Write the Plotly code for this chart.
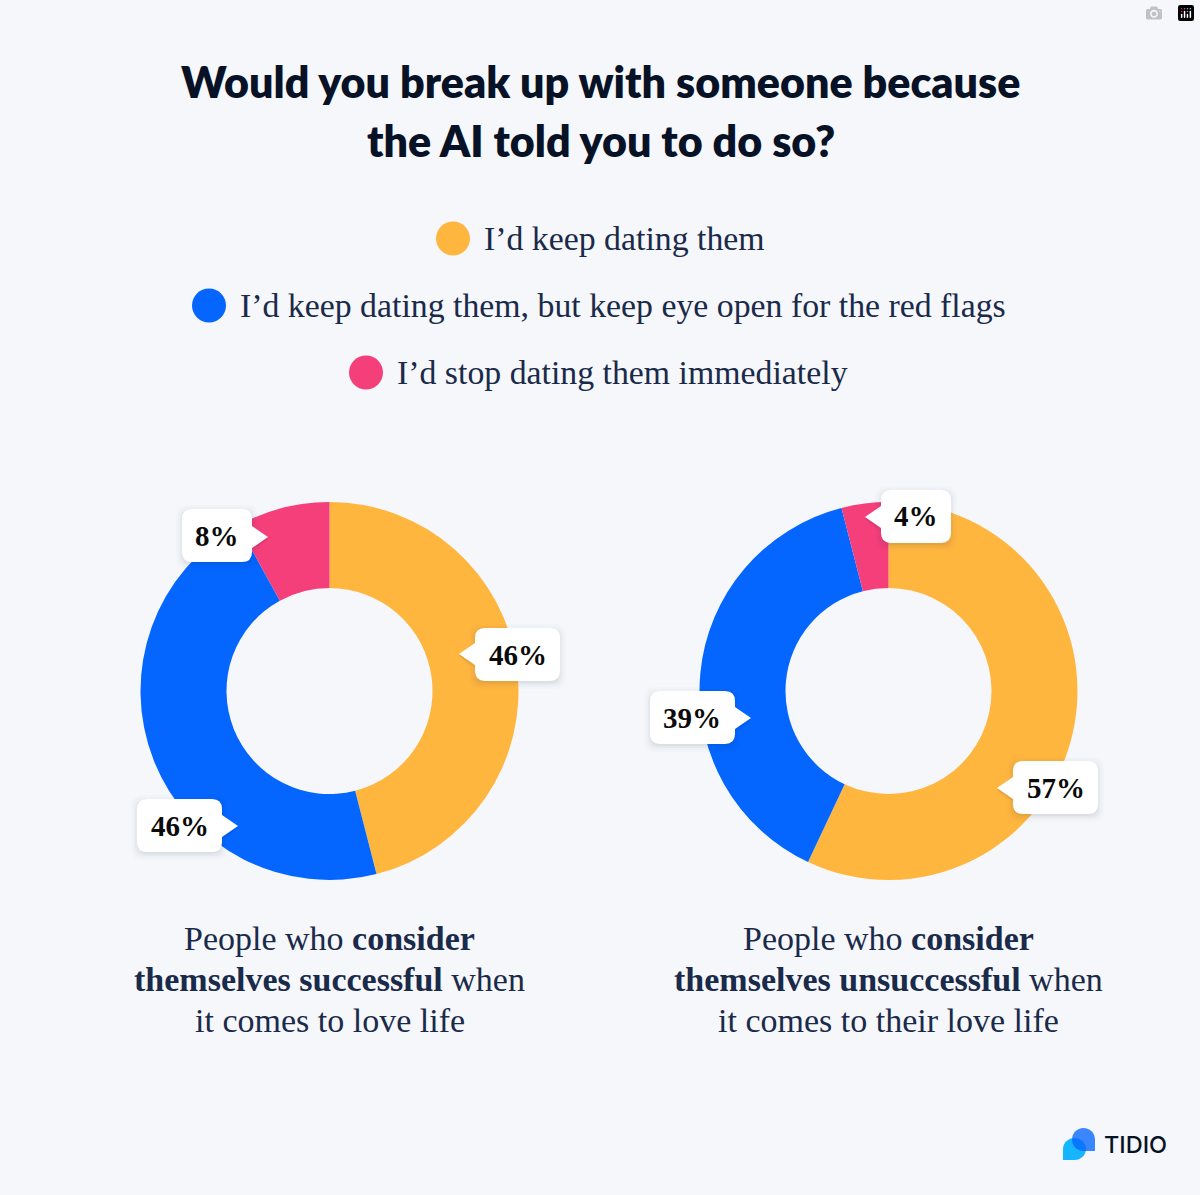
import plotly.graph_objects as go

W, H = 1200, 1195
BG = "#F5F7FA"
INK = "#0A1A33"
categories = ["I’d keep dating them",
              "I’d keep dating them, but keep eye open for the red flags",
              "I’d stop dating them immediately"]
colors = ["#FFB63F", "#0566FF", "#F53F7B"]
successful = [46, 46, 8]
unsuccessful = [57, 39, 4]
title_lines = ["Would you break up with someone because", "the AI told you to do so?"]
captions = [
    ["People who <b>consider</b>", "<b>themselves successful</b> when", "it comes to love life"],
    ["People who <b>consider</b>", "<b>themselves unsuccessful</b> when", "it comes to their love life"],
]

def px(x): return x / W
def py(y): return 1 - y / H
def P(x, y): return f"{px(x):.5f},{py(y):.5f}"

fig = go.Figure()
for vals, (x0, x1), name in [(successful, (140.5, 518.5), "successful"),
                             (unsuccessful, (699.5, 1077.5), "unsuccessful")]:
    fig.add_trace(go.Pie(labels=categories, values=vals, hole=0.545, sort=False,
                         direction="clockwise", rotation=0, textinfo="none",
                         marker=dict(colors=colors, line=dict(width=0)),
                         domain=dict(x=[px(x0), px(x1)], y=[py(880), py(502)]),
                         showlegend=False, name=name))

shapes, ann = [], []

def text(x, y, s, size, family=None, color=INK, weight=None, anchor="center"):
    f = dict(size=size, color=color, family=family or "Liberation Serif")
    if weight: f["weight"] = weight
    ann.append(dict(x=px(x), y=py(y), xref="paper", yref="paper", text=s, showarrow=False,
                    xanchor=anchor, yanchor="middle", font=f, align="center"))

for i, line in enumerate(title_lines):
    text(600.5, 82 + 59 * i, line, 43, family="Lato", color="#081226", weight=800)

legend_y = [238.5, 305.5, 372.5]
legend_tx = [484, 240, 397]
for c, y, tx, label in zip(colors, legend_y, legend_tx, categories):
    shapes.append(dict(type="circle", xref="paper", yref="paper", x0=px(tx - 48), x1=px(tx - 14),
                       y0=py(y + 17), y1=py(y - 17), fillcolor=c, line_width=0))
    text(tx - 2, y, label, 33.8, anchor="left", color="#1A2A4A")

def bubble(x0, y0, x1, y1, tipx, tipy, dx=0, dy=0, grow=0, fill="white", op=1.0):
    r = 10
    x0 -= grow; x1 += grow; y0 -= grow; y1 += grow
    x0 += dx; x1 += dx; y0 += dy; y1 += dy; tipx += dx; tipy += dy
    pts = [f"M{P(x0 + r, y0)}", f"L{P(x1 - r, y0)}", f"Q{P(x1, y0)} {P(x1, y0 + r)}"]
    if tipx > x1:
        pts += [f"L{P(x1, tipy - 11)}", f"L{P(tipx, tipy)}", f"L{P(x1, tipy + 11)}"]
    pts += [f"L{P(x1, y1 - r)}", f"Q{P(x1, y1)} {P(x1 - r, y1)}", f"L{P(x0 + r, y1)}",
            f"Q{P(x0, y1)} {P(x0, y1 - r)}"]
    if tipx < x0:
        pts += [f"L{P(x0, tipy + 11)}", f"L{P(tipx, tipy)}", f"L{P(x0, tipy - 11)}"]
    pts += [f"L{P(x0, y0 + r)}", f"Q{P(x0, y0)} {P(x0 + r, y0)}", "Z"]
    shapes.append(dict(type="path", xref="paper", yref="paper", path=" ".join(pts),
                       fillcolor=fill, opacity=op, line_width=0, layer="above"))

callouts = [
    (182, 509, 252, 562, 268, 537, successful[2]),
    (475, 628, 560, 681, 459, 654, successful[0]),
    (137, 799, 222, 852, 238, 826, successful[1]),
    (881, 490, 951, 543, 865, 517, unsuccessful[2]),
    (650, 691, 735, 744, 751, 718, unsuccessful[1]),
    (1013, 761, 1098, 814, 997, 788, unsuccessful[0]),
]
for x0, y0, x1, y1, tx, ty, v in callouts:
    for g, op in [(6, 0.012), (4, 0.02), (2, 0.03), (0, 0.04)]:
        bubble(x0, y0, x1, y1, tx, ty, dy=2, grow=g, fill="#0A1A33", op=op)
    bubble(x0, y0, x1, y1, tx, ty)
    text((x0 + x1) / 2, (y0 + y1) / 2, f"<b>{v}%</b>", 29, color="#0A0A0A")

for cx, lines in zip([329.5, 888], captions):
    for y, line in zip([938, 979, 1020], lines):
        text(cx, y, line, 34, color="#1A2A4A")

# logo
def blob(x0, y0, x1, y1, corner, color, op=1.0):
    k = 0.552
    rx, ry = (x1 - x0) / 2, (y1 - y0) / 2
    cx, cy = (x0 + x1) / 2, (y0 + y1) / 2
    if corner == "br":
        d = (f"M{P(cx, y0)} C{P(cx + k * rx, y0)} {P(x1, cy - k * ry)} {P(x1, cy)} L{P(x1, y1)} L{P(cx, y1)} "
             f"C{P(cx - k * rx, y1)} {P(x0, cy + k * ry)} {P(x0, cy)} C{P(x0, cy - k * ry)} {P(cx - k * rx, y0)} {P(cx, y0)} Z")
    else:
        d = (f"M{P(cx, y0)} C{P(cx + k * rx, y0)} {P(x1, cy - k * ry)} {P(x1, cy)} C{P(x1, cy + k * ry)} {P(cx + k * rx, y1)} {P(cx, y1)} "
             f"L{P(x0, y1)} L{P(x0, cy)} C{P(x0, cy - k * ry)} {P(cx - k * rx, y0)} {P(cx, y0)} Z")
    shapes.append(dict(type="path", xref="paper", yref="paper", path=d, fillcolor=color,
                       opacity=op, line_width=0, layer="above"))

blob(1063, 1138, 1086, 1160, "bl", "#17B4FF")
blob(1072, 1128, 1095, 1151, "br", "#0566FF", 0.78)
text(1102, 1144.5, "TIDIO", 23.5, family="Inter", color="#081226", weight=500, anchor="left")

fig.update_layout(width=W, height=H, margin=dict(l=0, r=0, t=0, b=0), paper_bgcolor=BG,
                  plot_bgcolor=BG, shapes=shapes, annotations=ann, showlegend=False)
fig.write_html("out.html", post_script=f"document.body.style.margin='0';document.body.style.background='{BG}';document.body.style.overflow='hidden';")
